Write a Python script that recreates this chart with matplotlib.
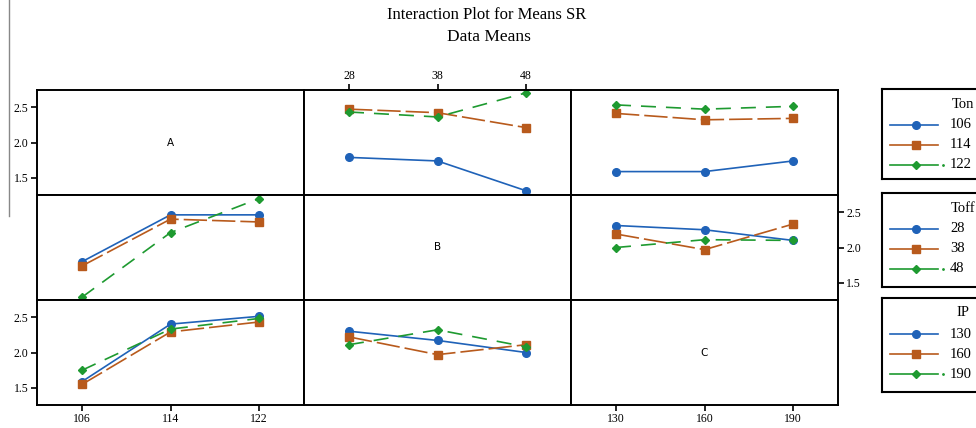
import matplotlib
matplotlib.use("Agg")
import matplotlib.pyplot as plt
from matplotlib.lines import Line2D

plt.rcParams['font.family'] = ['Liberation Serif', 'DejaVu Serif']

ton_levels = [106, 114, 122]
toff_levels = [28, 38, 48]
ip_levels = [130, 160, 190]

# mean SR, one row per level of the grouping factor
toff_by_ton = [[1.79, 1.74, 1.32], [2.47, 2.42, 2.21], [2.43, 2.36, 2.70]]
ip_by_ton = [[1.59, 1.59, 1.74], [2.41, 2.32, 2.34], [2.53, 2.47, 2.51]]
ton_by_toff = [[1.80, 2.46, 2.46], [1.74, 2.40, 2.36], [1.30, 2.21, 2.69]]
ip_by_toff = [[2.31, 2.25, 2.10], [2.19, 1.97, 2.33], [2.00, 2.11, 2.10]]
ton_by_ip = [[1.59, 2.40, 2.51], [1.55, 2.29, 2.43], [1.75, 2.33, 2.48]]
toff_by_ip = [[2.30, 2.17, 2.00], [2.22, 1.97, 2.11], [2.11, 2.32, 2.08]]

factor_names = ['A', 'B', 'C']
legend_titles = ['Ton', 'Toff', 'IP']
levels = [ton_levels, toff_levels, ip_levels]

colors = ['#1f62b8', '#b85a1c', '#1e9a30']
markers = ['o', 's', 'D']
msizes = [5.5, 5.5, 4.5]
dashes = ['-', (0, (14, 3)), (0, (9, 6))]

W, H = 976, 428
fig = plt.figure(figsize=(W / 100, H / 100), dpi=100)

def fx(px):
    return px / W

def fy(py):
    return 1 - py / H

left, right, top, bottom = 37, 838, 90, 405
cw = (right - left) / 3.0
rh = (bottom - top) / 3.0

# (row, col) -> data for that panel
panels = {
    (0, 1): toff_by_ton, (0, 2): ip_by_ton,
    (1, 0): ton_by_toff, (1, 2): ip_by_toff,
    (2, 0): ton_by_ip, (2, 1): toff_by_ip,
}

axes = {}
for r in range(3):
    for c in range(3):
        ax = fig.add_axes([fx(left + c * cw), fy(top + (r + 1) * rh), cw / W, rh / H])
        axes[(r, c)] = ax
        lv = levels[c]
        step = lv[1] - lv[0]
        pad = step * 45 / 88.5
        ax.set_xlim(lv[0] - pad, lv[2] + pad)
        ax.set_ylim(1.26, 2.74)
        for s in ax.spines.values():
            s.set_linewidth(1.4)
        ax.tick_params(which='both', bottom=False, top=False, left=False, right=False,
                       labelbottom=False, labeltop=False, labelleft=False, labelright=False,
                       direction='out', length=4, width=1.2, labelsize=8.5, pad=2)
        ax.set_xticks(lv)
        ax.set_yticks([1.5, 2.0, 2.5])
        if r == c:
            ax.text(0.5, 0.5, factor_names[c], transform=ax.transAxes,
                    ha='center', va='center', fontsize=7.5, family='DejaVu Sans')
        else:
            data = panels[(r, c)]
            for i, ys in enumerate(data):
                ax.plot(lv, ys, color=colors[i], marker=markers[i], ms=msizes[i],
                        linestyle=dashes[i], linewidth=1.2)

# tick placement
axes[(2, 0)].tick_params(bottom=True, labelbottom=True)
axes[(2, 2)].tick_params(bottom=True, labelbottom=True)
axes[(0, 1)].tick_params(top=True, labeltop=True)
axes[(0, 0)].tick_params(left=True, labelleft=True)
axes[(2, 0)].tick_params(left=True, labelleft=True)
axes[(1, 2)].tick_params(right=True, labelright=True)

fig.text(fx(487), fy(15), 'Interaction Plot for Means SR', ha='center', va='center', fontsize=12)
fig.text(fx(489), fy(37), 'Data Means', ha='center', va='center', fontsize=12.5)

# legend boxes on the right
boxes = [(89, 179), (193, 287), (298, 392)]
for k, (y0, y1) in enumerate(boxes):
    lax = fig.add_axes([fx(882), fy(y1), (W - 882 + 40) / W, (y1 - y0) / H])
    lax.set_xlim(882, W + 40)
    lax.set_ylim(y1, y0)
    lax.set_xticks([])
    lax.set_yticks([])
    for s in lax.spines.values():
        s.set_linewidth(1.5)
    lax.text(963, y0 + 15, legend_titles[k], ha='center', va='center', fontsize=10.5)
    for i, lvl in enumerate(levels[k]):
        yy = y0 + 36 + i * 20
        lax.plot([890, 938], [yy, yy], color=colors[i], linewidth=1.2)
        lax.plot([916], [yy], color=colors[i], marker=markers[i], ms=msizes[i])
        if i == 2:
            lax.plot([943], [yy], color=colors[i], marker='.', ms=2)
        lax.text(950, yy, str(lvl), ha='left', va='center', fontsize=10.5)

# thin rule at the left edge
fig.add_artist(Line2D([fx(9), fx(9)], [fy(0), fy(216)], color='#888888', linewidth=1))

fig.savefig('out.png', dpi=100)
